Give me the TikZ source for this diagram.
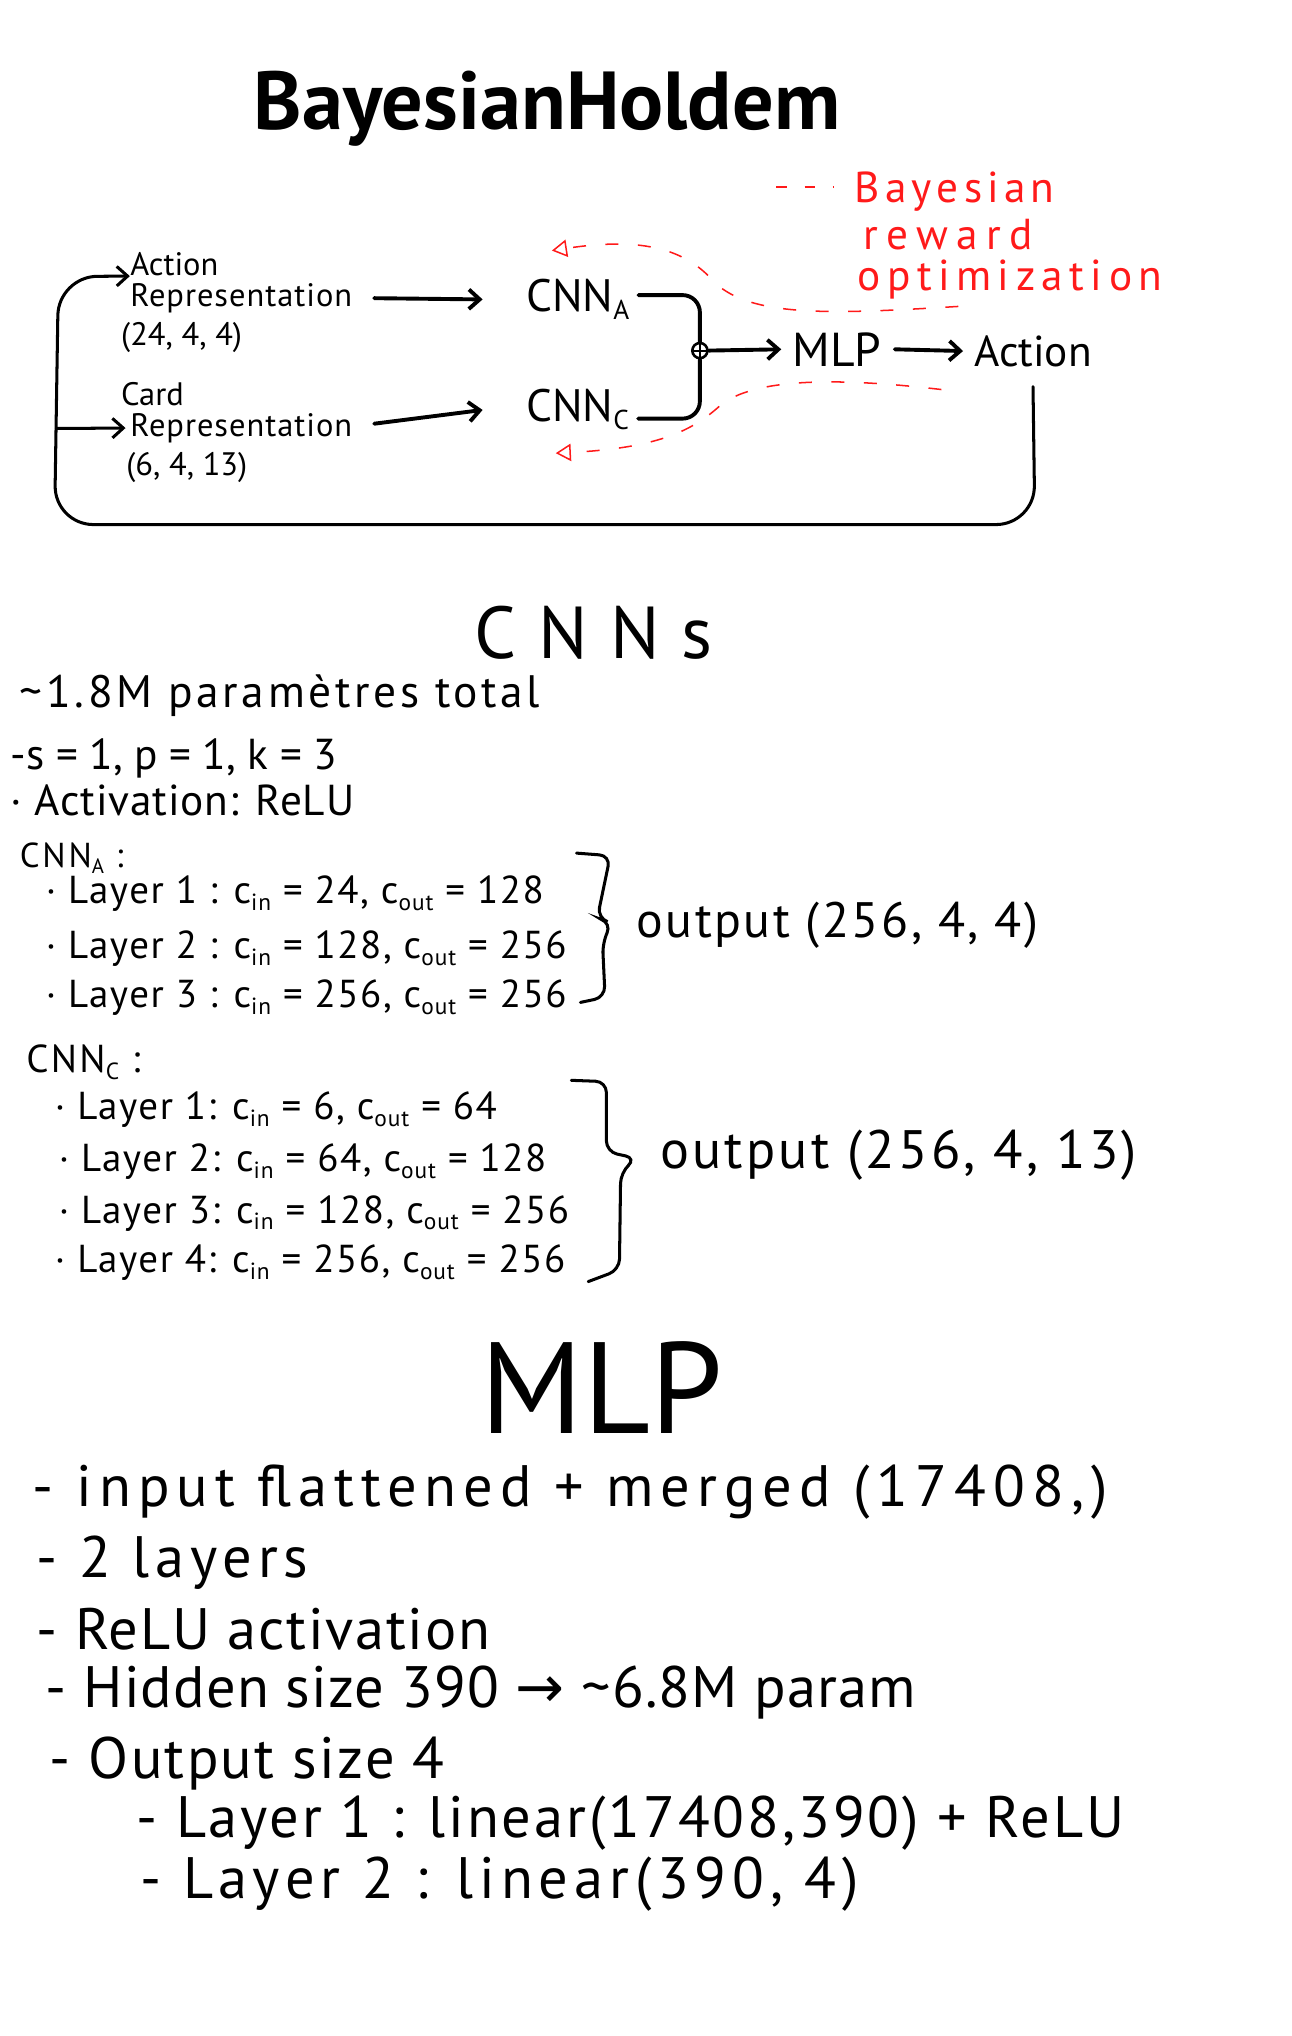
\documentclass[tikz,border=0pt]{standalone}
\usepackage{fontspec}
\setmainfont{PT Sans}
\newfontfamily\symfont{DejaVu Sans}
\usetikzlibrary{arrows.meta}
\newcommand\lsub[1]{\raisebox{-0.35ex}{\scalebox{0.6}{#1}}}
\newcommand\fs[1]{\fontsize{#1}{#1}\selectfont}
\newcommand\ls[1]{\addfontfeature{LetterSpace=#1}}
\definecolor{hred}{HTML}{FF1A1A}
\begin{document}
\begin{tikzpicture}[x=0.6pt,y=-0.6pt,
  txt/.style={anchor=base west, inner sep=0pt, text=black},
  rtxt/.style={anchor=base west, inner sep=0pt, text=hred},
  arr/.style={line width=1.8pt, line cap=round, -{Straight Barb[length=5pt,width=9pt]}},
  wire/.style={line width=1.8pt, line cap=round},
  wire2/.style={line width=1.4pt, line cap=round},
  reddash/.style={draw=hred, line width=0.7pt, dash pattern=on 6pt off 9pt},
  rtip/.style={-{Triangle[open,length=7pt,width=8pt]}},
  brk/.style={line width=1.4pt, line cap=round, rounded corners=5pt}]
\useasboundingbox (0,0) rectangle (995,1568);
\fill[white] (0,0) rectangle (995,1568);

% ---------- title
\node[txt, font=\bfseries\fs{38}] (title) at (195,100) {BayesianHoldem};

% ---------- red legend
\draw[reddash, dash pattern=on 5pt off 8pt] (598,144) -- (642,144);
\node[rtxt, font=\fs{20}\ls{12}] (bay) at (658,156) {Bayesian};
\node[rtxt, font=\fs{20}\ls{19}] (rew) at (665,192) {reward};
\node[rtxt, font=\fs{20}\ls{15}] (opt) at (660,224) {optimization};

% ---------- inputs
\node[txt, font=\fs{15}] (inA1) at (100,212) {Action};
\node[txt, font=\fs{15}\ls{3}] (inA2) at (100,236) {Representation};
\node[txt, font=\fs{15}] (inA3) at (93,266) {(24, 4, 4)};
\node[txt, font=\fs{15}] (inC1) at (93,312) {Card};
\node[txt, font=\fs{15}\ls{3}] (inC2) at (100,336) {Representation};
\node[txt, font=\fs{15}] (inC3) at (97,366) {(6, 4, 13)};

\node[txt, font=\fs{21}] (cnnA) at (405,240) {CNN\lsub{A}};
\node[txt, font=\fs{21}] (cnnC) at (405,325) {CNN\lsub{C}};
\node[circle, draw, line width=1.2pt, minimum size=7pt, inner sep=0pt] (plus) at (539,270) {};
\draw[line width=1pt] (plus.north) -- (plus.south) (plus.west) -- (plus.east);
\node[txt, font=\fs{22}] (mlp) at (610,282) {MLP};
\node[txt, font=\fs{20}] (act) at (750,282) {Action};

\draw[arr] ([xshift=10pt]inA2.east) -- ([xshift=-20pt]cnnA.west);
\draw[arr] ([xshift=10pt,yshift=2pt]inC2.east) -- ([xshift=-20pt]cnnC.west);
\draw[wire, rounded corners=8pt] ([xshift=4pt,yshift=2pt]cnnA.east) -| (plus.north);
\draw[wire, rounded corners=8pt] ([xshift=4pt,yshift=-4pt]cnnC.east) -| (plus.south);
\draw[arr] (plus.east) -- ([xshift=-5pt]mlp.west);
\draw[arr] ([xshift=6pt]mlp.east) -- ([xshift=-5pt]act.west);

% feedback loop
\coordinate (lbr) at (797,404);
\coordinate (lbl) at (42,404);
\coordinate (ltl) at (45,213);
\coordinate (lbranch) at (43.5,330);
\draw[wire2, rounded corners=18pt, -{Straight Barb[length=5pt,width=9pt]}]
  ([yshift=-9pt]act.south) -- (lbr) -- (lbl) -- (ltl) -- (inA1.south west);
\draw[wire2, -{Straight Barb[length=5pt,width=9pt]}] (lbranch) -- ([xshift=-2pt]inC2.west);

% red dashed optimisation arrows
\coordinate (rA0) at (738,236);
\coordinate (rA1) at (425,193);
\coordinate (rC0) at (725,300);
\coordinate (rC1) at (428,349);
\draw[reddash, rtip] (rA0) .. controls (640,242) and (575,245) .. (548,215)
  .. controls (525,190) and (490,183) .. (rA1);
\draw[reddash, rtip] (rC0) .. controls (640,290) and (580,292) .. (555,312)
  .. controls (535,330) and (510,345) .. (rC1);

% ---------- CNNs
\node[txt, font=\fs{34}\ls{30}] (cnnsT) at (365,507) {CNNs};
\node[txt, font=\fs{21}\ls{8}] (par) at (15,545) {\textasciitilde1.8M paramètres total};
\node[txt, font=\fs{20}] (sp) at (8,593) {-s = 1, p = 1, k = 3};
\node[txt, font=\fs{20}\ls{2}] (actv) at (8,628) {· Activation: ReLU};

\node[txt, font=\fs{16}\ls{8}] (cnnAh) at (15,668) {CNN\lsub{A} :};
\node[txt, font=\fs{18}\ls{4}] (a1) at (35,696) {· Layer 1 : c\lsub{in} = 24, c\lsub{out} = 128};
\node[txt, font=\fs{18}\ls{4}] (a2) at (35,738) {· Layer 2 : c\lsub{in} = 128, c\lsub{out} = 256};
\node[txt, font=\fs{18}\ls{4}] (a3) at (35,776) {· Layer 3 : c\lsub{in} = 256, c\lsub{out} = 256};
\draw[brk] (444,657) -- (470,659) -- (460,707) -- (471,711) -- (464,726) -- (466,768) -- (447,772);
\node[txt, font=\fs{23}\ls{5}] (outA) at (490,722) {output (256, 4, 4)};

\node[txt, font=\fs{18}\ls{6}] (cnnCh) at (20,826) {CNN\lsub{C} :};
\node[txt, font=\fs{18}\ls{4}] (c1) at (42,862) {· Layer 1: c\lsub{in} = 6, c\lsub{out} = 64};
\node[txt, font=\fs{18}\ls{4}] (c2) at (45,902) {· Layer 2: c\lsub{in} = 64, c\lsub{out} = 128};
\node[txt, font=\fs{18}\ls{4}] (c3) at (45,942) {· Layer 3: c\lsub{in} = 128, c\lsub{out} = 256};
\node[txt, font=\fs{18}\ls{4}] (c4) at (42,980) {· Layer 4: c\lsub{in} = 256, c\lsub{out} = 256};
\draw[brk] (440,832) -- (467,833) -- (467,887) -- (490,892) -- (478,903) -- (477,978) -- (453,987);
\node[txt, font=\fs{25}\ls{6}] (outC) at (508,900) {output (256, 4, 13)};

% ---------- MLP
\node[txt, font=\fs{60}, text depth=0pt] (mlpT) at (370,1104) {MLP};
\node[txt, font=\fs{27}\ls{12}] (m1) at (25,1160) {- input flattened + merged (17408,)};
\node[txt, font=\fs{27}\ls{10}] (m2) at (28,1215) {- 2 layers};
\node[txt, font=\fs{27}\ls{3}] (m3) at (28,1270) {- ReLU activation};
\node[txt, font=\fs{27}\ls{2}] (m4) at (35,1315) {- Hidden size 390 {\symfont →} \textasciitilde6.8M param};
\node[txt, font=\fs{27}\ls{4}] (m5) at (38,1370) {- Output size 4};
\node[txt, font=\fs{27}\ls{5}] (m6) at (105,1415) {- Layer 1 : linear(17408,390) + ReLU};
\node[txt, font=\fs{27}\ls{10}] (m7) at (108,1462) {- Layer 2 : linear(390, 4)};
\end{tikzpicture}
\end{document}
